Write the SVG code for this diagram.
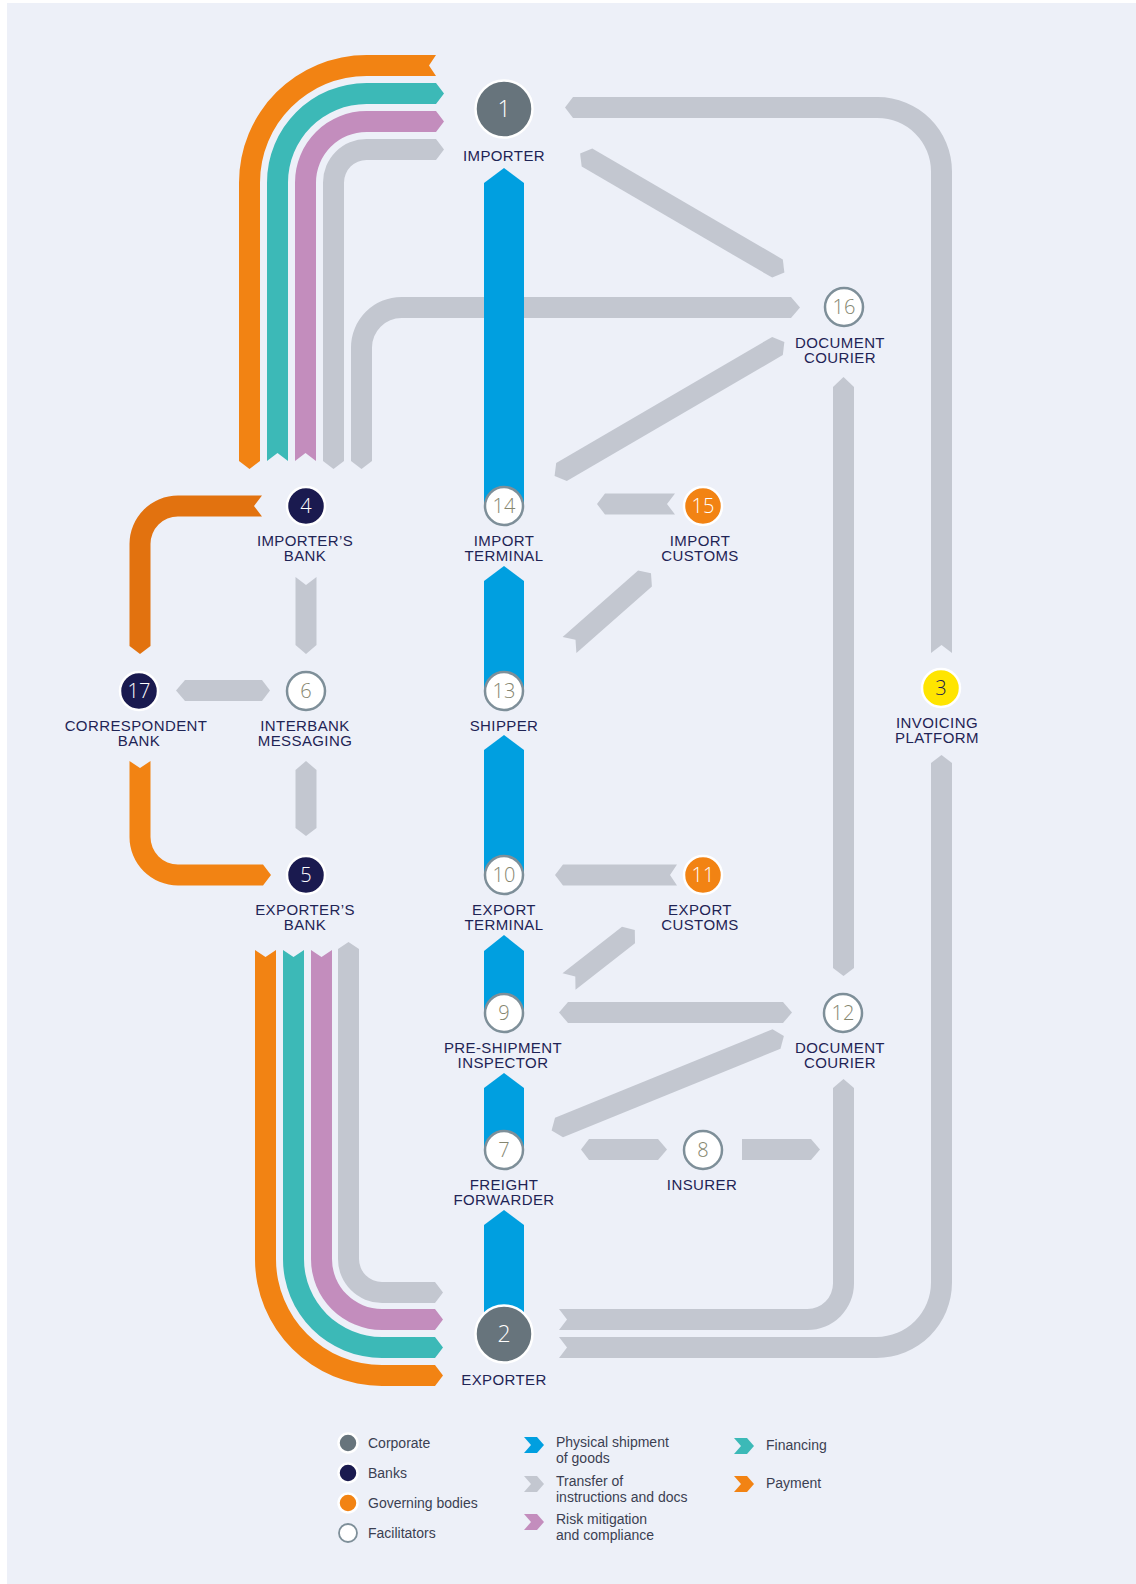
<svg xmlns="http://www.w3.org/2000/svg" width="1136" height="1584" viewBox="0 0 1136 1584">
<style>
.g{fill:#C3C7D0}.b{fill:#009FE0}.o{fill:#F28313}.od{fill:#E2720F}.t{fill:#3CB9B7}.p{fill:#C38DBD}
.nc{stroke:#fff;stroke-width:2.5}.corp{fill:#67747C}.bank{fill:#1A1A4F}.gov{fill:#F28313}.yel{fill:#FFE500}
.fac{fill:#fff;stroke:#7E8F99;stroke-width:2.5}
.num{font-family:"Open Sans","Liberation Sans",sans-serif;font-weight:300;font-size:20px;text-anchor:middle;fill:#fff}
.big{font-size:23px}.numf{fill:#85866F}.numd{fill:#1A1A4F}
.lbl{font-family:"Liberation Sans",Arial,sans-serif;font-size:15px;letter-spacing:0.4px;text-anchor:middle;fill:#1F2455}
.leg{font-family:"Liberation Sans",Arial,sans-serif;font-size:14px;fill:#3B3F52}
</style>
<rect x="0" y="0" width="1136" height="1584" fill="#fff"/>
<rect x="7" y="3" width="1129" height="1581" fill="#EDF0F8"/>
<g id="connectors">
<path class="o" d="M239,461 L239,182.5 A127.5,127.5 0 0 1 366.5,55 L436,55 L429,65.5 L436,76 L366.5,76 A106.5,106.5 0 0 0 260,182.5 L260,461 L249.5,469 Z"/>
<path class="t" d="M267,461 L267,182.5 A99.5,99.5 0 0 1 366.5,83 L436,83 L444,93.5 L436,104 L366.5,104 A78.5,78.5 0 0 0 288,182.5 L288,461 L277.5,453 Z"/>
<path class="p" d="M295,461 L295,182.5 A71.5,71.5 0 0 1 366.5,111 L436,111 L444,121.5 L436,132 L366.5,132 A50.5,50.5 0 0 0 316,182.5 L316,461 L305.5,453 Z"/>
<path class="g" d="M323,461 L323,182.5 A43.5,43.5 0 0 1 366.5,139 L436,139 L444,149.5 L436,160 L366.5,160 A22.5,22.5 0 0 0 344,182.5 L344,461 L333.5,469 Z"/>
<path class="g" d="M351,461 L351,347.5 A50.5,50.5 0 0 1 401.5,297 L791,297 L800,307.5 L791,318 L401.5,318 A29.5,29.5 0 0 0 372,347.5 L372,461 L361.5,469 Z"/>
<path class="g" d="M573,97 L877.5,97 A74.5,74.5 0 0 1 952,171.5 L952,653 L941.5,645 L931,653 L931,171.5 A53.5,53.5 0 0 0 877.5,118 L573,118 L565,107.5 Z"/>
<path class="g" d="M931,763 L941.5,755 L952,763 L952,1282.5 A75.5,75.5 0 0 1 876.5,1358 L559,1358 L567,1347.5 L559,1337 L876.5,1337 A54.5,54.5 0 0 0 931,1282.5 Z"/>
<path class="g" d="M833,1088 L843.5,1079 L854,1088 L854,1283.5 A46.5,46.5 0 0 1 807.5,1330 L559,1330 L567,1319.5 L559,1309 L807.5,1309 A25.5,25.5 0 0 0 833,1283.5 Z"/>
<path class="g" d="M833,387 L843.5,377 L854,387 L854,968 L843.5,976 L833,968 Z"/>
<polygon class="g" points="592.3,148.4 782.8,259.4 784.4,272.5 772.2,277.6 581.7,166.6 580.1,153.5"/>
<polygon class="g" points="556.2,462.9 772.2,336.9 784.4,342 782.8,355.1 566.8,481.1 554.6,476"/>
<polygon class="g" points="562.6,637.1 638.1,570.6 651,573.2 651.9,586.4 576.4,652.9 575.5,639.7"/>
<polygon class="g" points="562.5,973.2 622,926.7 634.8,930.1 635,943.3 575.5,989.8 575.3,976.6"/>
<polygon class="g" points="555,1117.8 772.5,1029.3 783.9,1036 780.5,1048.7 563,1137.2 551.6,1130.5"/>
<path class="g" d="M605,493.5 L675,493.5 L667,504 L675,514.5 L605,514.5 L597,504 Z"/>
<path class="g" d="M563,864.5 L677,864.5 L670,875 L677,885.5 L563,885.5 L555,875 Z"/>
<path class="g" d="M568,1002 L783,1002 L792,1012.5 L783,1023 L568,1023 L559,1012.5 Z"/>
<path class="g" d="M589,1139 L658,1139 L667,1149.5 L658,1160 L589,1160 L581,1149.5 Z"/>
<path class="g" d="M742,1139 L811,1139 L820,1149.5 L811,1160 L742,1160 Z"/>
<path class="od" d="M262,495.5 L178,495.5 A48.5,48.5 0 0 0 129.5,544 L129.5,646 L140,654 L150.5,646 L150.5,544 A27.5,27.5 0 0 1 178,516.5 L262,516.5 L254,506 Z"/>
<path class="o" d="M129.5,761 L140,768 L150.5,761 L150.5,837 A27.5,27.5 0 0 0 178,864.5 L263,864.5 L271,875 L263,885.5 L178,885.5 A48.5,48.5 0 0 1 129.5,837 Z"/>
<path class="g" d="M295.5,577 L306,585 L316.5,577 L316.5,645 L306,654 L295.5,645 Z"/>
<path class="g" d="M185,680 L262,680 L270,690.5 L262,701 L185,701 L176,690.5 Z"/>
<path class="g" d="M295.5,770 L306,761 L316.5,770 L316.5,828 L306,836 L295.5,828 Z"/>
<path class="o" d="M255,950 L265.5,957 L276,950 L276,1259 A106,106 0 0 0 382,1365 L435,1365 L443,1375.5 L435,1386 L382,1386 A127,127 0 0 1 255,1259 Z"/>
<path class="t" d="M283,950 L293.5,957 L304,950 L304,1259 A78,78 0 0 0 382,1337 L435,1337 L443,1347.5 L435,1358 L382,1358 A99,99 0 0 1 283,1259 Z"/>
<path class="p" d="M311,950 L321.5,957 L332,950 L332,1259 A50,50 0 0 0 382,1309 L435,1309 L443,1319.5 L435,1330 L382,1330 A71,71 0 0 1 311,1259 Z"/>
<path class="g" d="M338,949 L348.5,942 L359,949 L359,1259 A23,23 0 0 0 382,1282 L435,1282 L443,1292.5 L435,1303 L382,1303 A44,44 0 0 1 338,1259 Z"/>
<path class="b" d="M484,183 L504,168 L524,183 L524,506 L484,506 Z"/>
<path class="b" d="M484,581 L504,566 L524,581 L524,691 L484,691 Z"/>
<path class="b" d="M484,750 L504,735 L524,750 L524,875 L484,875 Z"/>
<path class="b" d="M484,951 L504,935 L524,951 L524,1013 L484,1013 Z"/>
<path class="b" d="M484,1088 L504,1073 L524,1088 L524,1150 L484,1150 Z"/>
<path class="b" d="M484,1225 L504,1210 L524,1225 L524,1334 L484,1334 Z"/>
</g>
<g id="node1"><circle class="corp nc" cx="504" cy="109" r="28.5"/><text class="num big" x="504" y="117">1</text><text class="lbl" x="504" y="161">IMPORTER</text></g>
<g id="node2"><circle class="corp nc" cx="504" cy="1334" r="28.5"/><text class="num big" x="504" y="1342">2</text><text class="lbl" x="504" y="1385">EXPORTER</text></g>
<g id="node3"><circle class="yel nc" cx="941" cy="688" r="19"/><text class="num numd" x="941" y="695">3</text><text class="lbl" x="937" y="728">INVOICING</text><text class="lbl" x="937" y="743">PLATFORM</text></g>
<g id="node4"><circle class="bank nc" cx="306" cy="506" r="19"/><text class="num" x="306" y="513">4</text><text class="lbl" x="305" y="546">IMPORTER’S</text><text class="lbl" x="305" y="561">BANK</text></g>
<g id="node5"><circle class="bank nc" cx="306" cy="875" r="19"/><text class="num" x="306" y="882">5</text><text class="lbl" x="305" y="915">EXPORTER’S</text><text class="lbl" x="305" y="930">BANK</text></g>
<g id="node6"><circle class="fac" cx="306" cy="691" r="19"/><text class="num numf" x="306" y="698">6</text><text class="lbl" x="305" y="731">INTERBANK</text><text class="lbl" x="305" y="746">MESSAGING</text></g>
<g id="node7"><circle class="fac" cx="504" cy="1150" r="19"/><text class="num numf" x="504" y="1157">7</text><text class="lbl" x="504" y="1190">FREIGHT</text><text class="lbl" x="504" y="1205">FORWARDER</text></g>
<g id="node8"><circle class="fac" cx="703" cy="1150" r="19"/><text class="num numf" x="703" y="1157">8</text><text class="lbl" x="702" y="1190">INSURER</text></g>
<g id="node9"><circle class="fac" cx="504" cy="1013" r="19"/><text class="num numf" x="504" y="1020">9</text><text class="lbl" x="503" y="1053">PRE-SHIPMENT</text><text class="lbl" x="503" y="1068">INSPECTOR</text></g>
<g id="node10"><circle class="fac" cx="504" cy="875" r="19"/><text class="num numf" x="504" y="882">10</text><text class="lbl" x="504" y="915">EXPORT</text><text class="lbl" x="504" y="930">TERMINAL</text></g>
<g id="node11"><circle class="gov nc" cx="703" cy="875" r="19"/><text class="num" x="703" y="882">11</text><text class="lbl" x="700" y="915">EXPORT</text><text class="lbl" x="700" y="930">CUSTOMS</text></g>
<g id="node12"><circle class="fac" cx="843" cy="1013" r="19"/><text class="num numf" x="843" y="1020">12</text><text class="lbl" x="840" y="1053">DOCUMENT</text><text class="lbl" x="840" y="1068">COURIER</text></g>
<g id="node13"><circle class="fac" cx="504" cy="691" r="19"/><text class="num numf" x="504" y="698">13</text><text class="lbl" x="504" y="731">SHIPPER</text></g>
<g id="node14"><circle class="fac" cx="504" cy="506" r="19"/><text class="num numf" x="504" y="513">14</text><text class="lbl" x="504" y="546">IMPORT</text><text class="lbl" x="504" y="561">TERMINAL</text></g>
<g id="node15"><circle class="gov nc" cx="703" cy="506" r="19"/><text class="num" x="703" y="513">15</text><text class="lbl" x="700" y="546">IMPORT</text><text class="lbl" x="700" y="561">CUSTOMS</text></g>
<g id="node16"><circle class="fac" cx="844" cy="307" r="19"/><text class="num numf" x="844" y="314">16</text><text class="lbl" x="840" y="348">DOCUMENT</text><text class="lbl" x="840" y="363">COURIER</text></g>
<g id="node17"><circle class="bank nc" cx="139" cy="691" r="19"/><text class="num" x="139" y="698">17</text><text class="lbl" x="136" y="731">CORRESPONDENT</text><text class="lbl" x="139" y="746">BANK</text></g>
<g id="legend">
<circle class="corp nc" cx="348" cy="1443" r="9.5"/><text class="leg" x="368" y="1448">Corporate</text>
<circle class="bank nc" cx="348" cy="1473" r="9.5"/><text class="leg" x="368" y="1478">Banks</text>
<circle class="gov nc" cx="348" cy="1503" r="9.5"/><text class="leg" x="368" y="1508">Governing bodies</text>
<circle class="fac" cx="348" cy="1533" r="9" style="stroke-width:1.8"/><text class="leg" x="368" y="1538">Facilitators</text>
<polygon class="b" points="524,1437 537,1437 544,1445 537,1453 524,1453 531,1445"/>
<text class="leg" x="556" y="1447">Physical shipment</text><text class="leg" x="556" y="1463">of goods</text>
<polygon class="g" points="524,1476 537,1476 544,1484 537,1492 524,1492 531,1484"/>
<text class="leg" x="556" y="1486">Transfer of</text><text class="leg" x="556" y="1502">instructions and docs</text>
<polygon class="p" points="524,1514 537,1514 544,1522 537,1530 524,1530 531,1522"/>
<text class="leg" x="556" y="1524">Risk mitigation</text><text class="leg" x="556" y="1540">and compliance</text>
<polygon class="t" points="734,1438 747,1438 754,1446 747,1454 734,1454 741,1446"/>
<text class="leg" x="766" y="1450">Financing</text>
<polygon class="o" points="734,1476 747,1476 754,1484 747,1492 734,1492 741,1484"/>
<text class="leg" x="766" y="1488">Payment</text>
</g>
</svg>
